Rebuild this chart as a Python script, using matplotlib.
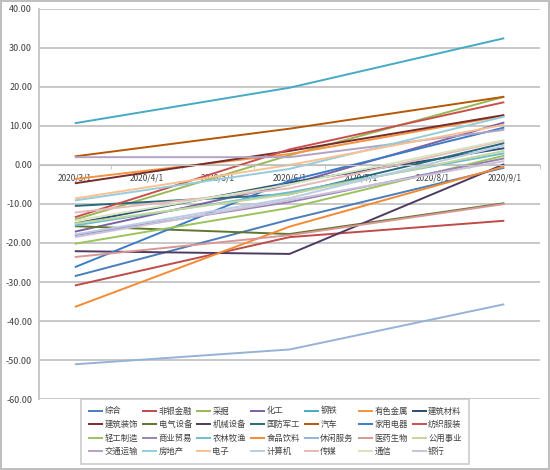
import matplotlib
matplotlib.use('Agg')
import matplotlib.pyplot as plt

plt.rcParams['font.family'] = ['Noto Sans CJK SC', 'DejaVu Sans']

# category axis (monthly), values only observed on 3/1, 6/1, 9/1
dates = ['2020/3/1', '2020/4/1', '2020/5/1', '2020/6/1', '2020/7/1', '2020/8/1', '2020/9/1']
obs_idx = [0, 3, 6]

names = ['综合', '非银金融', '采掘', '化工', '钢铁', '有色金属', '建筑材料',
         '建筑装饰', '电气设备', '机械设备', '国防军工', '汽车', '家用电器', '纺织服装',
         '轻工制造', '商业贸易', '农林牧渔', '食品饮料', '休闲服务', '医药生物', '公用事业',
         '交通运输', '房地产', '电子', '计算机', '传媒', '通信', '银行']

colors = ['#4A7EBB', '#BE4B48', '#98B954', '#7D60A0', '#46AAC5', '#F69240', '#2C4D75',
          '#772C2A', '#5F7530', '#4D3B62', '#276A7C', '#B65708', '#3C7CC4', '#C9504E',
          '#9BC55A', '#9983B5', '#6FBDD1', '#F58A32', '#95B3D7', '#D99694', '#C3D69B',
          '#B3A2C7', '#93CDDD', '#FAC090', '#B9CDE5', '#E6B9B8', '#D7E4BD', '#CCC1DA']

v_mar = [-28.5, -30.9, -14.0, -17.1, 10.7, -3.6, -15.0,
         -4.7, -15.7, -22.1, -10.5, 2.2, -26.2, -13.4,
         -20.2, -18.0, -15.5, -36.4, -51.1, -23.6, -15.0,
         2.0, -9.1, -8.6, -17.8, -12.2, -14.3, -18.5]
v_jun = [-14.0, -18.5, 2.5, -5.0, 19.8, 2.8, -4.5,
         3.6, -17.7, -22.8, -7.5, 9.3, -4.0, 4.0,
         -11.0, -9.5, -7.0, -15.8, -47.3, -18.0, -7.5,
         2.0, -1.0, 0.0, -8.5, -6.0, -5.0, -9.0]
v_sep = [-0.7, -14.3, 17.5, 10.9, 32.5, 12.6, 4.3,
         12.8, -9.8, 0.2, 5.6, 17.5, 9.6, 16.1,
         2.4, 1.7, 3.0, -0.4, -35.7, -10.0, 3.6,
         9.0, 12.4, 10.3, 5.0, 6.2, 6.4, 1.0]

fig = plt.figure(figsize=(5.5, 4.7), dpi=100)
fig.patch.set_edgecolor('#BFBFBF')
fig.patch.set_linewidth(1.5)
ax = fig.add_axes([0.071, 0.151, 0.911, 0.830])

# axis crosses at zero; set before tick formatting (it resets ticks)
ax.spines['bottom'].set_position(('data', 0))
ax.spines['bottom'].set_color('#BFBFBF')
ax.spines['left'].set_color('#BFBFBF')
ax.spines['left'].set_linewidth(1.2)
ax.spines['top'].set_visible(False)
ax.spines['right'].set_visible(False)

handles = []
for i in range(len(names)):
    h, = ax.plot(obs_idx, [v_mar[i], v_jun[i], v_sep[i]], color=colors[i], lw=1.4,
                 label=names[i], solid_capstyle='butt')
    handles.append(h)

ax.set_xlim(-0.5, len(dates) - 0.5)
ax.set_ylim(-60, 40)
ax.set_yticks(range(-60, 41, 10))
ax.set_yticklabels(['%.2f' % v for v in range(-60, 41, 10)])
ax.yaxis.grid(True, color='#BFBFBF', lw=1.2)
ax.set_axisbelow(True)

ax.set_xticks(range(len(dates)))
ax.set_xticklabels(dates)
ax.set_xticks([k - 0.5 for k in range(len(dates) + 1)], minor=True)
ax.tick_params(axis='x', which='major', length=0, pad=6, labelsize=6, labelcolor='#404040')
ax.tick_params(axis='x', which='minor', length=3, color='#BFBFBF')
ax.tick_params(axis='y', length=0, pad=5, labelsize=6.5, labelcolor='#404040')

# legend laid out row by row, 7 per row
ncol = 7
nrow = 4
order = [r * ncol + c for c in range(ncol) for r in range(nrow)]
leg = fig.legend([handles[k] for k in order], [names[k] for k in order],
                 ncol=ncol, loc='lower center', bbox_to_anchor=(0.5, 0.008),
                 fontsize=6, frameon=True, fancybox=False, edgecolor='#BFBFBF',
                 handlelength=1.8, handletextpad=0.15, columnspacing=0.5,
                 labelspacing=0.55, borderpad=0.9, borderaxespad=0.3)
leg.get_frame().set_linewidth(1.2)
for t in leg.get_texts():
    t.set_color('#404040')

fig.savefig('out.png', dpi=100)
